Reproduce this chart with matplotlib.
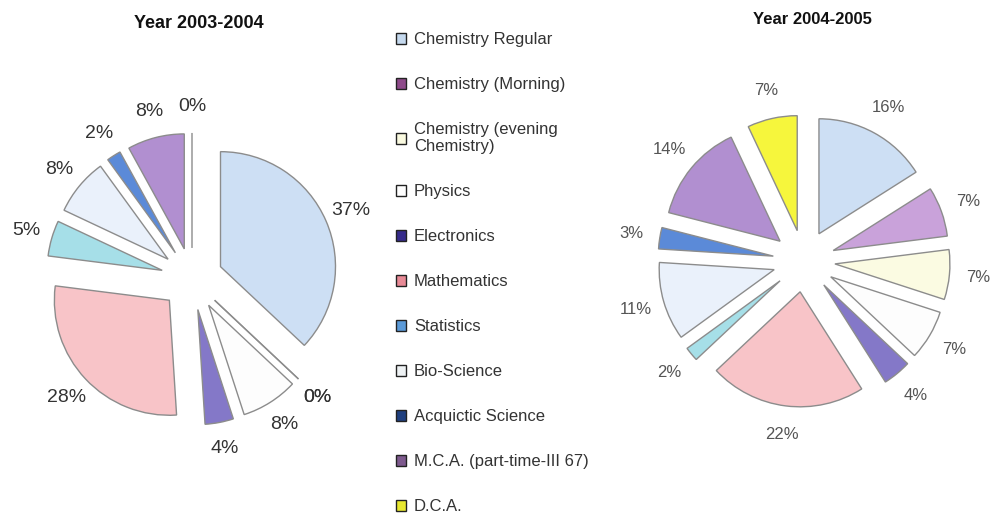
import matplotlib
matplotlib.use("Agg")
import matplotlib.pyplot as plt
from matplotlib.patches import Patch

plt.rcParams['font.family'] = ['Liberation Sans', 'DejaVu Sans']

categories = ["Chemistry Regular", "Chemistry (Morning)", "Chemistry (evening\nChemistry)",
              "Physics", "Electronics", "Mathematics", "Statistics", "Bio-Science",
              "Acquictic Science", "M.C.A. (part-time-III 67)", "D.C.A."]
values_2003 = [37, 0, 0, 8, 4, 28, 5, 8, 2, 8, 0]
values_2004 = [16, 7, 7, 7, 4, 22, 2, 11, 3, 14, 7]
titles = ["Year 2003-2004", "Year 2004-2005"]

slice_colors = ['#cddff4', '#c9a2da', '#fbfbe2', '#fdfdfd', '#8478c8', '#f8c4c8',
                '#a6dfe8', '#eaf1fb', '#5b8ad8', '#b18fd0', '#f6f63c']
legend_colors = ['#c5d9ee', '#8e4a8a', '#fafae0', '#ffffff', '#352a8a', '#e88a96',
                 '#5b9ad8', '#eef2f4', '#1f3f7f', '#7e5a8e', '#e8e830']

W, H = 991, 516
fig = plt.figure(figsize=(W / 100, H / 100), dpi=100)

R = 115  # px per unit radius
half = 1.6


def make_ax(cx, cy):
    size = 2 * half * R
    ax = fig.add_axes([(cx - size / 2) / W, (H - cy - size / 2) / H, size / W, size / H])
    ax.set_xlim(-half, half)
    ax.set_ylim(-half, half)
    ax.set_aspect('equal')
    ax.axis('off')
    return ax


def draw(ax, vals, fs, tc, pd):
    ax.pie(vals, colors=slice_colors, startangle=90, counterclock=False,
           explode=[0.27] * len(vals), radius=1.0,
           autopct=lambda p: f"{p:.0f}%", pctdistance=pd,
           wedgeprops=dict(edgecolor='#8c8c8c', linewidth=1.0),
           textprops=dict(fontsize=fs, color=tc), normalize=True)
    ax.set_xlim(-half, half)
    ax.set_ylim(-half, half)


ax1 = make_ax(192, 279)
draw(ax1, values_2003, 14, '#333333', 1.23)
ax2 = make_ax(804, 261)
draw(ax2, values_2004, 12, '#555555', 1.25)

fig.text(199 / W, 1 - 23 / H, titles[0], ha='center', va='center',
         fontsize=13, fontweight='bold', color='#111111')
fig.text(812 / W, 1 - 20 / H, titles[1], ha='center', va='center',
         fontsize=12, fontweight='bold', color='#111111')

handles = [Patch(facecolor=c, edgecolor='#222222', linewidth=1.0) for c in legend_colors]
fig.legend(handles, categories, loc='upper left', bbox_to_anchor=(396 / W, 1 - 32 / H),
           frameon=False, fontsize=12, labelcolor='#333333', borderpad=0,
           handlelength=0.62, handleheight=0.62, handletextpad=0.45,
           labelspacing=1.8, borderaxespad=0)

fig.savefig("out.png", dpi=100, facecolor='white')
